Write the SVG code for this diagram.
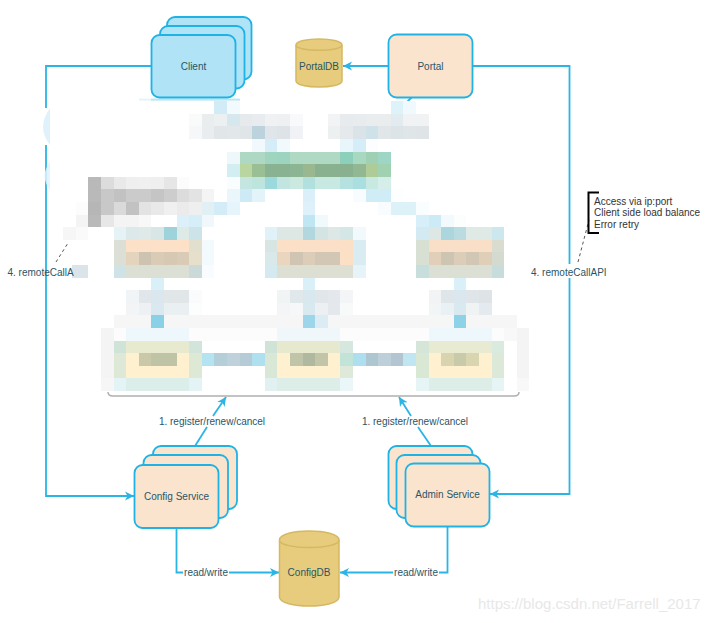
<svg xmlns="http://www.w3.org/2000/svg" width="720" height="623" viewBox="0 0 720 623">
<style>
text{font-family:"Liberation Sans",Arial,sans-serif;font-size:10px;fill:#2a5566}
.c{text-anchor:middle}
.blue{fill:#b0e3f5;stroke:#1fb3e5;stroke-width:1.8}
.peach{fill:#fae4ce;stroke:#1fb3e5;stroke-width:1.8}
.db{fill:#e6cc7c;stroke:#d6b862;stroke-width:1.5}
.ln{fill:none;stroke:#2ab5e6;stroke-width:1.8}
.arr{marker-end:url(#a)}
.dash{fill:none;stroke:#555;stroke-width:1;stroke-dasharray:3 3}
.note{fill:#333}
#mosaic rect{shape-rendering:crispEdges;height:1px}
</style>
<defs>
<marker id="a" markerUnits="userSpaceOnUse" markerWidth="12" markerHeight="12" refX="9" refY="5" orient="auto"><path d="M0,0.5L9,5L0,9.5L2.5,5z" fill="#2ab5e6"/></marker>
</defs>
<g id="connectors">
<path class="ln" d="M151,66H46V108"/>
<path class="ln arr" d="M46,145V496H134"/>
<path class="ln arr" d="M388,66H343"/>
<path class="ln arr" d="M473,66H569.5V494H490"/>
<path class="ln" d="M176.5,528V572.5H183"/>
<path class="ln arr" d="M229,572.5H279"/>
<path class="ln" d="M447.5,526V572.5H439"/>
<path class="ln arr" d="M393,572.5H340"/>
<path class="ln" d="M195,446L207,427"/>
<path class="ln arr" d="M213,416L226,397"/>
<path class="ln" d="M431,446L418,427"/>
<path class="ln arr" d="M411,416L399,397"/>
<path class="ln" d="M412,97L405,104"/>
<path d="M108,392Q108,396 113,396H514Q519,396 519,392" fill="none" stroke="#b0b0b0" stroke-width="1.5"/>
<path class="dash" d="M56,262L68,243"/>
<path class="dash" d="M578,262L589,220"/>
</g>
<g id="mosaic" transform="translate(0.1,0.3) scale(12.6)">
<rect x="17" y="8" width="1" fill="#d2ecf7"/><rect x="18" y="8" width="1" fill="#f3fafd"/><rect x="31" y="8" width="1" fill="#def2fa"/><rect x="32" y="8" width="1" fill="#f0f9fd"/>
<rect x="15" y="9" width="1" fill="#f9fafa"/><rect x="16" y="9" width="1" fill="#e9edee"/><rect x="17" y="9" width="1" fill="#edf0f0"/><rect x="18" y="9" width="1" fill="#d7e7ee"/><rect x="19" y="9" width="1" fill="#e6eaec"/><rect x="20" y="9" width="1" fill="#e8ecee"/><rect x="21" y="9" width="1" fill="#eff1f2"/><rect x="22" y="9" width="1" fill="#eef0f2"/><rect x="23" y="9" width="1" fill="#f8f9fa"/>
<rect x="26" y="9" width="1" fill="#f1f3f4"/><rect x="27" y="9" width="1" fill="#e8ebed"/><rect x="28" y="9" width="1" fill="#e8ecee"/><rect x="29" y="9" width="1" fill="#eaedee"/><rect x="30" y="9" width="1" fill="#e9edee"/><rect x="31" y="9" width="1" fill="#e2ebf0"/><rect x="32" y="9" width="2" fill="#f0f2f3"/>
<rect x="15" y="10" width="1" fill="#f6f7f8"/><rect x="16" y="10" width="1" fill="#e9edef"/><rect x="17" y="10" width="1" fill="#e1e6e9"/><rect x="18" y="10" width="1" fill="#e2e7e9"/><rect x="19" y="10" width="1" fill="#e0e5e8"/><rect x="20" y="10" width="1" fill="#bcd2dc"/><rect x="21" y="10" width="1" fill="#dfe5e8"/><rect x="22" y="10" width="1" fill="#dde3e6"/><rect x="23" y="10" width="1" fill="#f0f2f5"/>
<rect x="26" y="10" width="1" fill="#edf0f1"/><rect x="27" y="10" width="1" fill="#e6e9eb"/><rect x="28" y="10" width="1" fill="#d9e3e8"/><rect x="29" y="10" width="1" fill="#cfe2ea"/><rect x="30" y="10" width="1" fill="#e1e6e9"/><rect x="31" y="10" width="1" fill="#dde4e8"/><rect x="32" y="10" width="1" fill="#e0e5e8"/><rect x="33" y="10" width="1" fill="#dfe4e7"/>
<rect x="20" y="11" width="1" fill="#f1f9fd"/><rect x="21" y="11" width="1" fill="#d4edf8"/><rect x="22" y="11" width="1" fill="#f1f9fd"/><rect x="27" y="11" width="1" fill="#e8f6fc"/><rect x="28" y="11" width="1" fill="#d4edf8"/><rect x="29" y="11" width="1" fill="#fbfdfe"/>
<rect x="18" y="12" width="1" fill="#eef8fa"/><rect x="19" y="12" width="2" fill="#aed8c3"/><rect x="21" y="12" width="1" fill="#9fd5be"/><rect x="22" y="12" width="1" fill="#9dd4c0"/><rect x="23" y="12" width="4" fill="#b0d9c4"/><rect x="27" y="12" width="1" fill="#8ccfba"/><rect x="28" y="12" width="1" fill="#a9d8c0"/><rect x="29" y="12" width="1" fill="#9fd0b3"/><rect x="30" y="12" width="1" fill="#9ed5c5"/>
<rect x="18" y="13" width="1" fill="#d3eef3"/><rect x="19" y="13" width="1" fill="#b9d6a0"/><rect x="20" y="13" width="1" fill="#9bbf95"/><rect x="21" y="13" width="2" fill="#88b292"/><rect x="23" y="13" width="1" fill="#8cb593"/><rect x="24" y="13" width="1" fill="#9ab88f"/><rect x="25" y="13" width="3" fill="#8ab18f"/><rect x="28" y="13" width="1" fill="#91b893"/><rect x="29" y="13" width="1" fill="#aecb98"/><rect x="30" y="13" width="1" fill="#a0d1b0"/>
<rect x="7" y="14" width="1" fill="#b9b9b9"/><rect x="8" y="14" width="1" fill="#dcdcdc"/><rect x="9" y="14" width="1" fill="#e9e9e9"/><rect x="10" y="14" width="1" fill="#efefef"/><rect x="11" y="14" width="1" fill="#f0f0f0"/><rect x="12" y="14" width="1" fill="#efefef"/><rect x="13" y="14" width="1" fill="#e6e6e6"/><rect x="14" y="14" width="1" fill="#fcfcfc"/>
<rect x="18" y="14" width="1" fill="#fafdfe"/><rect x="19" y="14" width="1" fill="#c4e5e0"/><rect x="20" y="14" width="1" fill="#bee4de"/><rect x="21" y="14" width="1" fill="#9cd9dd"/><rect x="22" y="14" width="1" fill="#c2e5e1"/><rect x="23" y="14" width="1" fill="#cbe9e1"/><rect x="24" y="14" width="1" fill="#b2e0de"/><rect x="25" y="14" width="2" fill="#c8e9e2"/><rect x="27" y="14" width="1" fill="#b5e1e0"/><rect x="28" y="14" width="1" fill="#a9dfe0"/><rect x="29" y="14" width="1" fill="#c8e9e2"/><rect x="30" y="14" width="1" fill="#d6eeea"/>
<rect x="7" y="15" width="1" fill="#b9b9b9"/><rect x="8" y="15" width="1" fill="#c8c8c8"/><rect x="9" y="15" width="1" fill="#c2c2c2"/><rect x="10" y="15" width="2" fill="#cbcbcb"/><rect x="12" y="15" width="1" fill="#c5c5c5"/><rect x="13" y="15" width="1" fill="#cdcdcd"/><rect x="14" y="15" width="1" fill="#dcdcdc"/><rect x="15" y="15" width="1" fill="#e3e3e3"/><rect x="16" y="15" width="1" fill="#f4f4f4"/>
<rect x="18" y="15" width="1" fill="#eaf6fb"/><rect x="19" y="15" width="1" fill="#cfeaf7"/><rect x="20" y="15" width="1" fill="#e3f3fa"/><rect x="24" y="15" width="1" fill="#daeff9"/><rect x="28" y="15" width="1" fill="#f8fcfe"/><rect x="29" y="15" width="2" fill="#cfecf7"/><rect x="31" y="15" width="1" fill="#fdfefe"/>
<rect x="6" y="16" width="1" fill="#fcfcfc"/><rect x="7" y="16" width="1" fill="#b6b6b6"/><rect x="8" y="16" width="1" fill="#c8c8c8"/><rect x="9" y="16" width="1" fill="#dadada"/><rect x="10" y="16" width="1" fill="#c2c2c2"/><rect x="11" y="16" width="1" fill="#e3e3e3"/><rect x="12" y="16" width="1" fill="#e9e9e9"/><rect x="13" y="16" width="1" fill="#f0f0f0"/><rect x="14" y="16" width="1" fill="#ebebeb"/><rect x="15" y="16" width="1" fill="#efefef"/><rect x="16" y="16" width="1" fill="#e1f0f5"/><rect x="17" y="16" width="1" fill="#d4ecf7"/><rect x="18" y="16" width="1" fill="#e6f4fb"/>
<rect x="24" y="16" width="1" fill="#def1fa"/><rect x="30" y="16" width="1" fill="#f8fcfe"/><rect x="31" y="16" width="2" fill="#ddf1f9"/><rect x="33" y="16" width="1" fill="#f9fdfd"/>
<rect x="6" y="17" width="1" fill="#f4f4f4"/><rect x="7" y="17" width="1" fill="#b9b9b9"/><rect x="8" y="17" width="1" fill="#e7e7e7"/><rect x="9" y="17" width="2" fill="#f4f4f4"/><rect x="11" y="17" width="1" fill="#f8f8f8"/><rect x="14" y="17" width="1" fill="#dcf0f9"/><rect x="15" y="17" width="1" fill="#d6eef8"/><rect x="16" y="17" width="1" fill="#f0f8fb"/>
<rect x="24" y="17" width="1" fill="#bfe6f2"/><rect x="25" y="17" width="1" fill="#f0f9fc"/><rect x="33" y="17" width="1" fill="#d7eff8"/><rect x="34" y="17" width="1" fill="#ccebf7"/><rect x="35" y="17" width="1" fill="#f3fafd"/><rect x="36" y="17" width="1" fill="#fcfefe"/>
<rect x="5" y="18" width="1" fill="#f6f6f6"/><rect x="6" y="18" width="1" fill="#fafafa"/><rect x="9" y="18" width="1" fill="#e5f2f6"/><rect x="10" y="18" width="1" fill="#dce8e9"/><rect x="11" y="18" width="1" fill="#dfe9e8"/><rect x="12" y="18" width="1" fill="#d8e6e6"/><rect x="13" y="18" width="1" fill="#9fd3dc"/><rect x="14" y="18" width="1" fill="#deeae6"/><rect x="15" y="18" width="1" fill="#cde3ea"/>
<rect x="21" y="18" width="1" fill="#e0f1f8"/><rect x="22" y="18" width="2" fill="#dde7e4"/><rect x="24" y="18" width="1" fill="#b3d7de"/><rect x="25" y="18" width="1" fill="#d3e4e3"/><rect x="26" y="18" width="1" fill="#dde7e5"/><rect x="27" y="18" width="1" fill="#d4e6e6"/><rect x="28" y="18" width="1" fill="#f1f9fc"/>
<rect x="33" y="18" width="1" fill="#d3eaf2"/><rect x="34" y="18" width="1" fill="#dde7e3"/><rect x="35" y="18" width="1" fill="#abd6de"/><rect x="36" y="18" width="1" fill="#badce0"/><rect x="37" y="18" width="2" fill="#dfe9e5"/><rect x="39" y="18" width="1" fill="#cde7ee"/>
<rect x="9" y="19" width="1" fill="#dcdfd6"/><rect x="10" y="19" width="5" fill="#fce0c8"/><rect x="15" y="19" width="1" fill="#e3dfcf"/><rect x="16" y="19" width="1" fill="#f3fafd"/><rect x="21" y="19" width="1" fill="#d7e5e3"/><rect x="22" y="19" width="6" fill="#fbdfc7"/><rect x="28" y="19" width="1" fill="#d9ecf1"/><rect x="33" y="19" width="1" fill="#d8dfd3"/><rect x="34" y="19" width="5" fill="#f9dfc8"/><rect x="39" y="19" width="1" fill="#dadccf"/>
<rect x="9" y="20" width="1" fill="#dcdfd6"/><rect x="10" y="20" width="1" fill="#e5d4bd"/><rect x="11" y="20" width="1" fill="#cdc3b0"/><rect x="12" y="20" width="1" fill="#dacbb7"/><rect x="13" y="20" width="1" fill="#d6c8b3"/><rect x="14" y="20" width="1" fill="#dacbb6"/><rect x="15" y="20" width="1" fill="#e5dfcb"/><rect x="16" y="20" width="1" fill="#f3fafd"/>
<rect x="21" y="20" width="1" fill="#d9e8e9"/><rect x="22" y="20" width="1" fill="#ead6bf"/><rect x="23" y="20" width="1" fill="#cfc5b2"/><rect x="24" y="20" width="1" fill="#dccdb8"/><rect x="25" y="20" width="2" fill="#d1c7b4"/><rect x="27" y="20" width="1" fill="#fbe0c5"/><rect x="28" y="20" width="1" fill="#d9ecf2"/>
<rect x="33" y="20" width="1" fill="#d8dfd3"/><rect x="34" y="20" width="1" fill="#e2cfba"/><rect x="35" y="20" width="1" fill="#cdc4b1"/><rect x="36" y="20" width="1" fill="#dccdb9"/><rect x="37" y="20" width="1" fill="#d2c7b4"/><rect x="38" y="20" width="1" fill="#dfceb8"/><rect x="39" y="20" width="1" fill="#d4dad0"/>
<rect x="5.72" y="21" width="1.28" fill="#dbe4e9"/><rect x="9" y="21" width="1" fill="#cfe3e6"/><rect x="10" y="21" width="5" fill="#dcdfd3"/><rect x="15" y="21" width="1" fill="#cbdad8"/><rect x="16" y="21" width="1" fill="#f8fcfe"/><rect x="21" y="21" width="1" fill="#d4e9f0"/><rect x="22" y="21" width="6" fill="#dcdfd1"/><rect x="28" y="21" width="1" fill="#e6f4fa"/><rect x="33" y="21" width="1" fill="#c8dedd"/><rect x="34" y="21" width="5" fill="#dcdfd3"/><rect x="39" y="21" width="1" fill="#c6dddb"/>
<rect x="12" y="22" width="1" fill="#daf0f9"/><rect x="24" y="22" width="1" fill="#daf0f9"/><rect x="36" y="22" width="1" fill="#daf0f9"/>
<rect x="10" y="23" width="1" fill="#f1f4f6"/><rect x="11" y="23" width="1" fill="#e0e6e9"/><rect x="12" y="23" width="1" fill="#dae7ee"/><rect x="13" y="23" width="2" fill="#e1e6e9"/><rect x="15" y="23" width="1" fill="#fafbfc"/><rect x="22" y="23" width="1" fill="#f1f4f5"/><rect x="23" y="23" width="1" fill="#e0e8ec"/><rect x="24" y="23" width="1" fill="#d9e8ef"/><rect x="25" y="23" width="1" fill="#e0e6e9"/><rect x="26" y="23" width="1" fill="#e4e8ec"/><rect x="27" y="23" width="1" fill="#f3f5f6"/><rect x="34" y="23" width="1" fill="#f1f3f5"/><rect x="35" y="23" width="1" fill="#dfe6e9"/><rect x="36" y="23" width="1" fill="#dae7ee"/><rect x="37" y="23" width="1" fill="#dfe5e9"/><rect x="38" y="23" width="1" fill="#dde3e7"/>
<rect x="10" y="24" width="1" fill="#f2f4f6"/><rect x="11" y="24" width="1" fill="#eef1f4"/><rect x="12" y="24" width="1" fill="#dae9f0"/><rect x="13" y="24" width="2" fill="#eaeff1"/><rect x="15" y="24" width="1" fill="#fcfdfd"/><rect x="22" y="24" width="1" fill="#f3f5f6"/><rect x="23" y="24" width="1" fill="#f5f7f8"/><rect x="24" y="24" width="1" fill="#d8e9f0"/><rect x="25" y="24" width="1" fill="#edf0f3"/><rect x="26" y="24" width="1" fill="#e4e8ec"/><rect x="27" y="24" width="1" fill="#f8f9f9"/><rect x="34" y="24" width="1" fill="#f2f5f6"/><rect x="35" y="24" width="1" fill="#eaf1f4"/><rect x="36" y="24" width="1" fill="#d9e9f0"/><rect x="37" y="24" width="1" fill="#eff3f4"/><rect x="38" y="24" width="1" fill="#e4eaed"/>
<rect x="9" y="25" width="32" fill="#f6f6f6"/><rect x="12" y="25" width="1" fill="#8ad1e8"/><rect x="24" y="25" width="1" fill="#9dd6ea"/><rect x="25" y="25" width="1" fill="#dcecf5"/><rect x="36" y="25" width="1" fill="#8ed2e8"/>
<rect x="8" y="26" width="1" fill="#f4f4f4"/><rect x="9" y="26" width="32" fill="#fcfcfc"/><rect x="10" y="26" width="5" fill="#eef7fb"/><rect x="22" y="26" width="5" fill="#eff7fb"/><rect x="34" y="26" width="5" fill="#eef7fb"/><rect x="40" y="26" width="1" fill="#f8f8f8"/><rect x="41" y="26" width="1" fill="#f4f4f4"/>
<rect x="8" y="27" width="1" fill="#f4f4f4"/><rect x="9" y="27" width="1" fill="#cfe3d8"/><rect x="10" y="27" width="5" fill="#e8ead0"/><rect x="15" y="27" width="1" fill="#d1e5da"/><rect x="21" y="27" width="1" fill="#cfe3d7"/><rect x="22" y="27" width="5" fill="#e7e9cf"/><rect x="27" y="27" width="1" fill="#d5e7df"/><rect x="33" y="27" width="1" fill="#d5e6d9"/><rect x="34" y="27" width="5" fill="#e9ead2"/><rect x="39" y="27" width="1" fill="#d9eade"/><rect x="41" y="27" width="1" fill="#f4f4f4"/>
<rect x="8" y="28" width="1" fill="#f4f4f4"/><rect x="9" y="28" width="1" fill="#dde8d7"/><rect x="10" y="28" width="1" fill="#fff0cf"/><rect x="11" y="28" width="1" fill="#c9c8a8"/><rect x="12" y="28" width="2" fill="#c0c4a7"/><rect x="14" y="28" width="1" fill="#fff0cf"/><rect x="15" y="28" width="1" fill="#dde8d5"/><rect x="16" y="28" width="1" fill="#b4e3f1"/><rect x="17" y="28" width="1" fill="#b5cfd9"/><rect x="18" y="28" width="1" fill="#bfd1da"/><rect x="19" y="28" width="1" fill="#b5cbd5"/><rect x="20" y="28" width="1" fill="#aee0f0"/>
<rect x="21" y="28" width="1" fill="#d9e8d6"/><rect x="22" y="28" width="1" fill="#fff0cf"/><rect x="23" y="28" width="1" fill="#c0c4a8"/><rect x="24" y="28" width="1" fill="#b0b9a0"/><rect x="25" y="28" width="1" fill="#c3c5a8"/><rect x="26" y="28" width="1" fill="#fff0cf"/><rect x="27" y="28" width="1" fill="#c2e3d8"/><rect x="28" y="28" width="1" fill="#aedff0"/><rect x="29" y="28" width="1" fill="#aec6d0"/><rect x="30" y="28" width="1" fill="#bdd0da"/><rect x="31" y="28" width="1" fill="#b2c5d0"/><rect x="32" y="28" width="1" fill="#c0e6f2"/>
<rect x="33" y="28" width="1" fill="#d9e8d5"/><rect x="34" y="28" width="1" fill="#fff0cf"/><rect x="35" y="28" width="1" fill="#d8d4b0"/><rect x="36" y="28" width="1" fill="#c9caa9"/><rect x="37" y="28" width="1" fill="#d9d5b0"/><rect x="38" y="28" width="1" fill="#fff0cf"/><rect x="39" y="28" width="1" fill="#dce9d8"/><rect x="41" y="28" width="1" fill="#f4f4f4"/>
<rect x="8" y="29" width="1" fill="#f4f4f4"/><rect x="9" y="29" width="1" fill="#dde8d7"/><rect x="10" y="29" width="5" fill="#fff0cf"/><rect x="15" y="29" width="1" fill="#dde8d5"/><rect x="21" y="29" width="1" fill="#d9e8d6"/><rect x="22" y="29" width="5" fill="#fff0cf"/><rect x="27" y="29" width="1" fill="#dfe9da"/><rect x="33" y="29" width="1" fill="#d9e8d5"/><rect x="34" y="29" width="5" fill="#fff0cf"/><rect x="39" y="29" width="1" fill="#dce9d8"/><rect x="41" y="29" width="1" fill="#f4f4f4"/>
<rect x="8" y="30" width="1" fill="#f6f6f6"/><rect x="9" y="30" width="1" fill="#e4f3f5"/><rect x="10" y="30" width="5" fill="#dceee9"/><rect x="15" y="30" width="1" fill="#e4f3f5"/><rect x="21" y="30" width="1" fill="#e1f1f2"/><rect x="22" y="30" width="5" fill="#ddeee9"/><rect x="27" y="30" width="1" fill="#ebf6f8"/><rect x="33" y="30" width="1" fill="#e7f4f5"/><rect x="34" y="30" width="5" fill="#ddeee9"/><rect x="39" y="30" width="1" fill="#e7f4f6"/><rect x="41" y="30" width="1" fill="#f8f8f8"/>
</g>
<g id="smudges">
<path d="M50,108Q43,118 43,127Q43,136 50,145Z" fill="#dff2fb"/>
<path d="M50,161Q44.5,170 44.5,176Q44.5,182 50,191Z" fill="#dff2fb" fill-opacity=".85"/>
<rect x="139" y="98.7" width="101" height="1.8" fill="#e0f4fb"/>
<rect x="151" y="98.7" width="89" height="1.8" fill="#b7e6f6"/>
</g>
<g id="client">
<rect class="blue" x="167" y="17" width="84.5" height="62.5" rx="8"/>
<rect class="blue" x="160" y="26" width="84.5" height="62.5" rx="8"/>
<rect class="blue" x="151.5" y="35" width="84" height="62.5" rx="8"/>
<text class="c" x="193.5" y="70">Client</text>
</g>
<g id="portaldb">
<path class="db" d="M296,45C296,37 342,37 342,45V81C342,89 296,89 296,81Z"/>
<path class="db" d="M296,45C296,52 342,52 342,45"/>
<text class="c" x="319" y="70">PortalDB</text>
</g>
<g id="portal">
<rect class="peach" x="388.5" y="34.5" width="84" height="63" rx="8"/>
<text class="c" x="430.5" y="70">Portal</text>
</g>
<g id="config-service">
<rect class="peach" x="153" y="446" width="84" height="63" rx="8"/>
<rect class="peach" x="143.5" y="455" width="84.5" height="63" rx="8"/>
<rect class="peach" x="134.5" y="465" width="84" height="63" rx="8"/>
<text class="c" x="176.5" y="500">Config Service</text>
</g>
<g id="admin-service">
<rect class="peach" x="388.5" y="446" width="84" height="63" rx="8"/>
<rect class="peach" x="396.5" y="455" width="84" height="63" rx="8"/>
<rect class="peach" x="405.5" y="463.5" width="84" height="63" rx="8"/>
<text class="c" x="447.5" y="498">Admin Service</text>
</g>
<g id="configdb">
<path class="db" d="M279.5,540C279.5,528 339,528 339,540V597C339,609 279.5,609 279.5,597Z"/>
<path class="db" d="M279.5,540C279.5,550 339,550 339,540"/>
<text class="c" x="309" y="576">ConfigDB</text>
</g>
<g id="labels">
<text class="c" x="212" y="425">1. register/renew/cancel</text>
<text class="c" x="415" y="425">1. register/renew/cancel</text>
<text class="c" x="206" y="576">read/write</text>
<text class="c" x="416" y="576">read/write</text>
<rect x="530" y="264" width="78" height="14" fill="#fff"/>
<text x="531" y="276">4. remoteCallAPI</text>
<text x="7.5" y="276">4. remoteCallA</text>
<path d="M599,192.5H588.5V233H599" fill="none" stroke="#000" stroke-width="2"/>
<text class="note" x="594" y="204.5">Access via ip:port</text>
<text class="note" x="594" y="216">Client side load balance</text>
<text class="note" x="594" y="228">Error retry</text>
</g>
<text id="watermark" x="478" y="609" style="font-size:15px;fill:#e8e8e8">https://blog.csdn.net/Farrell_2017</text>
</svg>
